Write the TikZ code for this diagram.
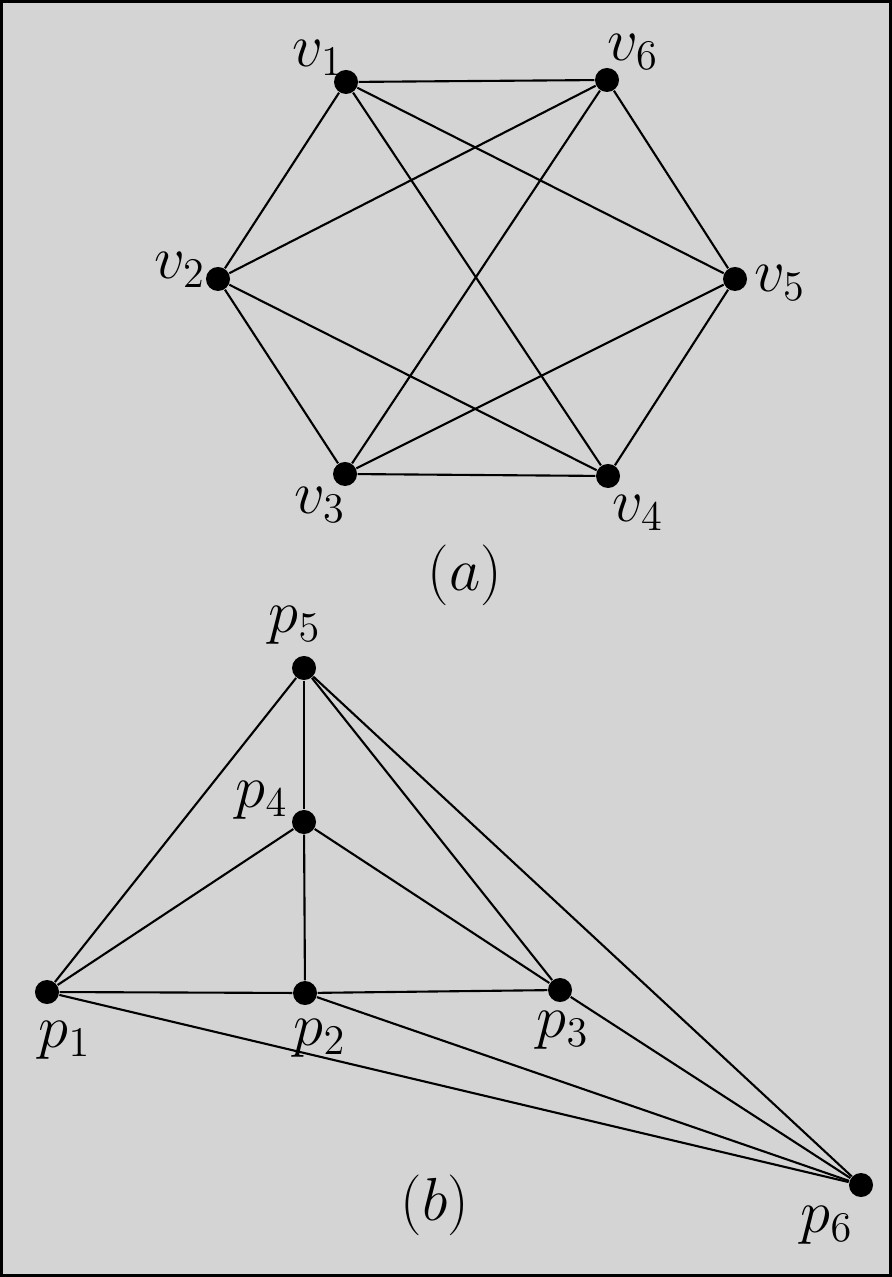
\documentclass[tikz,border=0pt]{standalone}
\begin{document}
\begin{tikzpicture}[x=0.01cm,y=-0.01cm,
  dot/.style={circle,fill=black,inner sep=0pt,minimum size=0.24cm},
  lab/.style={inner sep=0pt,font=\fontsize{17}{20}\selectfont},
  edge/.style={line width=0.6pt}]
\useasboundingbox (0,0) rectangle (892,1277);
\fill[black!17] (0,0) rectangle (892,1277);
\draw[line width=0.9pt] (1.5,1.5) rectangle (890.5,1275.5);
% (a)
\node[dot] (v1) at (346,82) {};
\node[dot] (v6) at (607,80) {};
\node[dot] (v2) at (218,279) {};
\node[dot] (v5) at (735,279) {};
\node[dot] (v3) at (345,474) {};
\node[dot] (v4) at (608,476) {};
\foreach \a/\b in {v1/v6,v1/v2,v1/v5,v1/v4,v6/v2,v6/v5,v6/v3,v2/v3,v2/v4,v5/v3,v5/v4,v3/v4}
  \draw[edge] (\a) -- (\b);
\node[lab] (lv1) at (318,58) {$v_1$};
\node[lab] (lv6) at (633,52) {$v_6$};
\node[lab] (lv2) at (180,270) {$v_2$};
\node[lab] (lv5) at (780,283) {$v_5$};
\node[lab] (lv3) at (320,505) {$v_3$};
\node[lab] (lv4) at (638,513) {$v_4$};
\node[lab] (la) at (465,575) {$(a)$};
% (b)
\node[dot] (p5) at (304,668) {};
\node[dot] (p4) at (304,822) {};
\node[dot] (p1) at (47,992) {};
\node[dot] (p2) at (305,993) {};
\node[dot] (p3) at (560,990) {};
\node[dot] (p6) at (861,1185) {};
\foreach \a/\b in {p5/p1,p5/p4,p5/p3,p5/p6,p4/p1,p4/p2,p4/p3,p1/p2,p2/p3,p1/p6,p2/p6,p3/p6}
  \draw[edge] (\a) -- (\b);
\node[lab] (lp5) at (295,625) {$p_5$};
\node[lab] (lp4) at (262,800) {$p_4$};
\node[lab] (lp1) at (65,1040) {$p_1$};
\node[lab] (lp2) at (320,1038) {$p_2$};
\node[lab] (lp3) at (563,1030) {$p_3$};
\node[lab] (lp6) at (827,1225) {$p_6$};
\node[lab] (lb) at (435,1205) {$(b)$};
\end{tikzpicture}
\end{document}
